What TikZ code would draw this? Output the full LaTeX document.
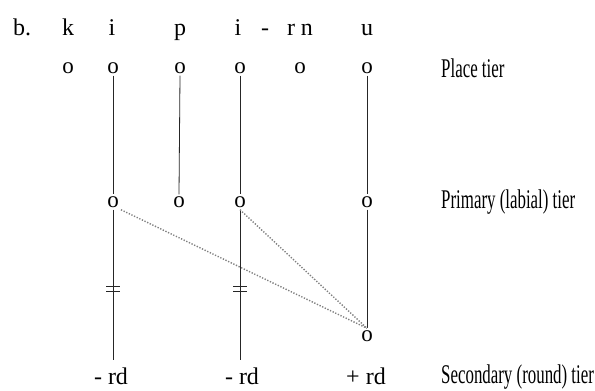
\documentclass[tikz,border=0pt]{standalone}
\usepackage{fontspec}
\setmainfont{Liberation Serif}
\newfontfamily\labelfont[FakeStretch=0.625]{Liberation Serif}
\begin{document}
\begin{tikzpicture}[x=1pt,y=-1pt,
  seg/.style={font=\fontsize{24}{24}\selectfont, inner sep=0pt, anchor=base},
  unit/.style={font=\fontsize{23}{23}\selectfont, inner sep=2pt},
  tier/.style={font=\labelfont\fontsize{27}{27}\selectfont, inner sep=0pt, anchor=west},
  assoc/.style={line width=0.8pt, black!85},
  spread/.style={gray, line width=1.4pt, dash pattern=on 1.3pt off 1.6pt},
  bar/.style={line width=0.8pt, black!85}]
\useasboundingbox (0,0) rectangle (595,391);
\fill[white] (0,0) rectangle (595,391);
% segment row
\node[seg] (b) at (22,35) {b.};
\node[seg] (k) at (68,35) {k};
\node[seg] (i1) at (112,35) {i};
\node[seg] (p) at (180,35) {p};
\node[seg] (i2) at (238,35) {i};
\node[seg] (dash) at (265,35) {-};
\node[seg] (rn) at (300,35) {r n};
\node[seg] (u) at (367,35) {u};
% place tier
\node[unit] (P1) at (68,68) {o};
\node[unit] (P2) at (113,68) {o};
\node[unit] (P3) at (180,68) {o};
\node[unit] (P4) at (240,68) {o};
\node[unit] (P5) at (300,68) {o};
\node[unit] (P6) at (367,68) {o};
% primary tier
\node[unit] (L1) at (113,202) {o};
\node[unit] (L2) at (179,202) {o};
\node[unit] (L3) at (240,202) {o};
\node[unit] (L4) at (367,202) {o};
% secondary node
\node[unit] (S) at (367,336) {o};
% rd labels
\node[seg, anchor=center] (R1) at (111,376) {- rd};
\node[seg, anchor=center] (R2) at (242,376) {- rd};
\node[seg, anchor=center] (R3) at (366,376) {+ rd};
% tier labels
\node[tier] (tp) at (441,68) {Place tier};
\node[tier] (tl) at (441,202) {Primary (labial) tier};
\node[tier] (ts) at (441,377) {Secondary (round) tier};
% associations
\draw[assoc] (P2.south) -- (L1.north);
\draw[assoc] (P3.south) -- (L2.north);
\draw[assoc] (P4.south) -- (L3.north);
\draw[assoc] (P6.south) -- (L4.north);
\coordinate (e1) at (113,360);
\coordinate (e2) at (240,360);
\draw[assoc] (L1.south) -- (e1);
\draw[assoc] (L3.south) -- (e2);
\draw[assoc] (L4.south) -- (S.north);
% delinking bars
\draw[bar] (106,286) -- (120,286) (106,291) -- (120,291);
\draw[bar] (233,286) -- (247,286) (233,291) -- (247,291);
% spreading
\draw[spread] (L1.south east) -- (S.north);
\draw[spread] (L3.south) -- (S.north);
\end{tikzpicture}
\end{document}
